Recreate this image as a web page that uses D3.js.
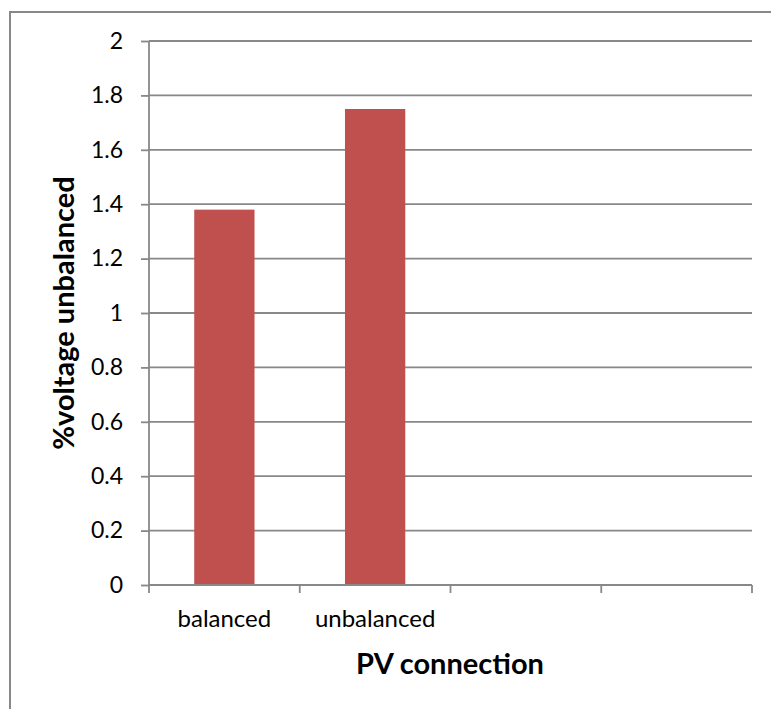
<!DOCTYPE html>
<html>
<head>
<meta charset="utf-8">
<script src="https://cdn.jsdelivr.net/npm/d3@7"></script>
<style>
  html, body { margin: 0; padding: 0; background: #fff; }
  svg { display: block; }
  text { font-family: "Lato", "Open Sans", sans-serif; fill: #000; }
</style>
</head>
<body>
<svg id="chart" width="771" height="709"></svg>
<script>
// Category slots on the x axis (the last two are empty slots)
const categories = ["balanced", "unbalanced", "", ""];
// % voltage unbalance for each slot (null = no bar)
const values = [1.38, 1.75, null, null];
// Y axis tick values and labels
const yTicks = [0, 0.2, 0.4, 0.6, 0.8, 1, 1.2, 1.4, 1.6, 1.8, 2];
const yTickLabels = ["0", "0.2", "0.4", "0.6", "0.8", "1", "1.2", "1.4", "1.6", "1.8", "2"];
const yTitle = "%voltage unbalanced";
const xTitle = "PV connection";

const svg = d3.select("#chart");
const W = 771, H = 709;
const plot = { left: 149, right: 752, top: 41, bottom: 585 };
const gridColor = "#888888";
const barColor = "#C0504D";

// outer chart frame (runs off the right and bottom edges)
svg.append("rect")
  .attr("x", 10).attr("y", 12)
  .attr("width", W + 20).attr("height", H + 20)
  .attr("fill", "#fff")
  .attr("stroke", "#888888").attr("stroke-width", 2);

const x = d3.scaleBand()
  .domain(d3.range(categories.length))
  .range([plot.left, plot.right])
  .paddingInner(0.6).paddingOuter(0.3);

const y = d3.scaleLinear().domain([0, 2]).range([plot.bottom, plot.top]);

// horizontal gridlines
svg.append("g").selectAll("line")
  .data(yTicks.filter(t => t > 0))
  .join("line")
  .attr("x1", plot.left).attr("x2", plot.right)
  .attr("y1", d => y(d)).attr("y2", d => y(d))
  .attr("stroke", gridColor).attr("stroke-width", 1.8);

// bars
svg.append("g").selectAll("rect")
  .data(values.map((v, i) => ({ i, v })).filter(d => d.v != null))
  .join("rect")
  .attr("x", d => x(d.i))
  .attr("width", x.bandwidth())
  .attr("y", d => y(d.v))
  .attr("height", d => y(0) - y(d.v))
  .attr("fill", barColor);

// y axis
const yAxis = d3.axisLeft(y)
  .tickValues(yTicks)
  .tickFormat((d, i) => yTickLabels[i])
  .tickSize(8).tickPadding(18);
const gy = svg.append("g")
  .attr("transform", `translate(${plot.left},0)`)
  .call(yAxis);
gy.select(".domain").attr("stroke", gridColor).attr("stroke-width", 1.8)
  .attr("d", `M0,${plot.top}V${plot.bottom}`);
gy.selectAll(".tick line").attr("stroke", gridColor).attr("stroke-width", 1.8);
gy.selectAll(".tick text")
  .style("font-family", "Lato, 'Open Sans', sans-serif")
  .style("font-size", "23px").attr("fill", "#000");

// x axis: tick marks at slot boundaries, labels centred in slots
const xEdge = d3.scaleLinear().domain([0, categories.length]).range([plot.left, plot.right]);
const gx = svg.append("g").attr("transform", `translate(0,${plot.bottom})`);
gx.append("line")
  .attr("x1", plot.left).attr("x2", plot.right)
  .attr("stroke", gridColor).attr("stroke-width", 1.8);
gx.selectAll("line.tick")
  .data(d3.range(categories.length + 1))
  .join("line").attr("class", "tick")
  .attr("x1", d => xEdge(d)).attr("x2", d => xEdge(d))
  .attr("y1", 0).attr("y2", 8)
  .attr("stroke", gridColor).attr("stroke-width", 1.8);
gx.selectAll("text")
  .data(categories.map((c, i) => ({ c, i })))
  .join("text")
  .attr("x", d => x(d.i) + x.bandwidth() / 2)
  .attr("y", 42)
  .attr("text-anchor", "middle")
  .style("font-size", "24px")
  .text(d => d.c);

// axis titles
svg.append("text")
  .attr("transform", `translate(74,${(plot.top + plot.bottom) / 2}) rotate(-90)`)
  .attr("text-anchor", "middle")
  .style("font-size", "29px").style("font-weight", "bold")
  .text(yTitle);

svg.append("text")
  .attr("x", 450)
  .attr("y", 674)
  .attr("text-anchor", "middle")
  .style("font-size", "29px").style("font-weight", "bold")
  .text(xTitle);
</script>
</body>
</html>
